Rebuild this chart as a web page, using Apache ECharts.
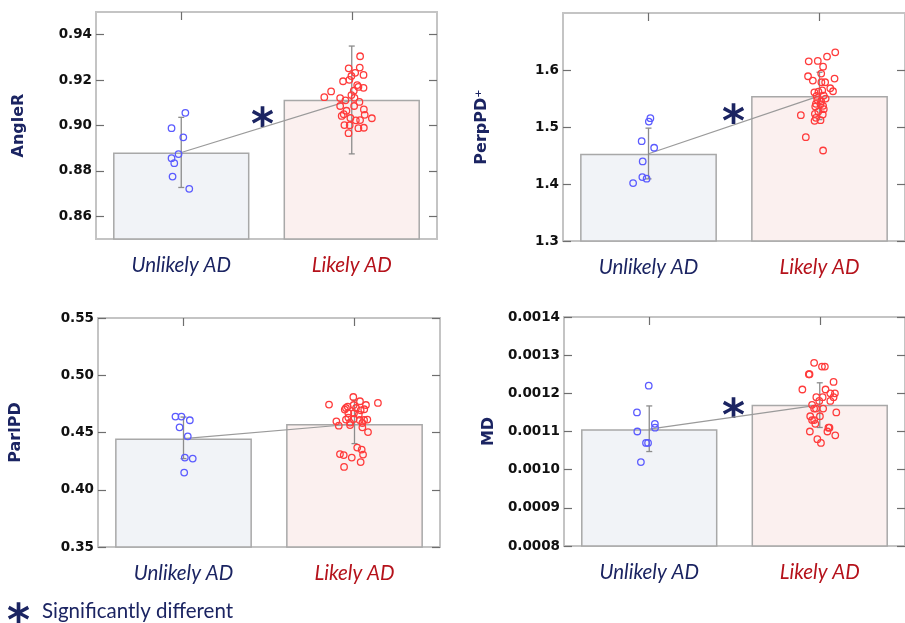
<!DOCTYPE html>
<html>
<head>
<meta charset="utf-8">
<script src="https://cdn.jsdelivr.net/npm/echarts@6/dist/echarts.min.js"></script>
<style>
html,body{margin:0;padding:0;background:#fff;}
#chart{width:905px;height:623px;}
</style>
</head>
<body>
<div id="chart"></div>
<script>
// ---------- DATA ----------
const categories = ['Unlikely AD', 'Likely AD'];

// AngleR
const angleRMeans = [0.8881, 0.9113];
const angleRErrLow = [0.8727, 0.8875];
const angleRErrHigh = [0.9036, 0.9350];
const angleRTicks = [0.86, 0.88, 0.90, 0.92, 0.94];
const angleRUnlikely = [0.9056, 0.8988, 0.8948, 0.8874, 0.8856, 0.8834, 0.8775, 0.8721];
const angleRUnlikelyJitter = [0.024, -0.057, 0.012, -0.016, -0.057, -0.041, -0.051, 0.047];
const angleRLikely = [0.9305, 0.9252, 0.9255, 0.9232, 0.9218, 0.9223, 0.9195, 0.9201, 0.9178, 0.9170, 0.9166, 0.9153, 0.9150, 0.9134, 0.9125, 0.9121, 0.9122, 0.9111, 0.9104, 0.9086, 0.9086, 0.9071, 0.9065, 0.9047, 0.9050, 0.9042, 0.9032, 0.9033, 0.9023, 0.9024, 0.9002, 0.9001, 0.8988, 0.8990, 0.8966];
const angleRLikelyJitter = [0.049, -0.018, 0.047, 0.020, -0.002, 0.069, -0.051, -0.014, 0.032, 0.039, 0.069, 0.012, -0.121, -0.002, -0.161, -0.068, 0.016, -0.037, 0.045, 0.014, -0.068, 0.071, -0.031, 0.076, -0.047, -0.059, 0.118, -0.008, 0.024, 0.049, -0.043, -0.012, 0.039, 0.071, -0.019];

// PerpPD+
const perpMeans = [1.4531, 1.5546];
const perpErrLow = [1.4090, 1.5130];
const perpErrHigh = [1.4980, 1.5960];
const perpTicks = [1.3, 1.4, 1.5, 1.6];
const perpUnlikely = [1.5154, 1.5096, 1.4751, 1.4636, 1.4396, 1.4121, 1.4093, 1.4016];
const perpUnlikelyJitter = [0.011, 0.002, -0.040, 0.033, -0.034, -0.036, -0.011, -0.090];
const perpLikely = [1.6310, 1.6235, 1.6152, 1.6159, 1.6059, 1.5937, 1.5890, 1.5814, 1.5849, 1.5785, 1.5785, 1.5680, 1.5627, 1.5609, 1.5622, 1.5644, 1.5546, 1.5552, 1.5499, 1.5476, 1.5447, 1.5406, 1.5399, 1.5359, 1.5371, 1.5312, 1.5271, 1.5207, 1.5231, 1.5219, 1.5161, 1.5119, 1.5109, 1.4821, 1.4588];
const perpLikelyJitter = [0.092, 0.044, -0.063, -0.010, 0.021, 0.010, -0.067, -0.039, 0.088, 0.011, 0.033, 0.063, 0.079, -0.030, -0.006, 0.016, -0.017, 0.025, 0.036, -0.013, 0.010, -0.021, 0.006, -0.025, 0.021, 0.025, -0.007, -0.109, -0.027, 0.019, -0.021, 0.006, -0.029, -0.080, 0.021];

// ParlPD
const parlMeans = [0.4447, 0.4574];
const parlErrLow = [0.4272, 0.4403];
const parlErrHigh = [0.4635, 0.4781];
const parlTicks = [0.35, 0.40, 0.45, 0.50, 0.55];
const parlUnlikely = [0.4639, 0.4639, 0.4607, 0.4545, 0.4467, 0.4281, 0.4272, 0.4150];
const parlUnlikelyJitter = [-0.047, -0.012, 0.037, -0.023, 0.025, 0.008, 0.054, 0.004];
const parlLikely = [0.4810, 0.4744, 0.4773, 0.4740, 0.4740, 0.4758, 0.4714, 0.4726, 0.4714, 0.4694, 0.4703, 0.4700, 0.4668, 0.4656, 0.4668, 0.4630, 0.4618, 0.4613, 0.4609, 0.4609, 0.4613, 0.4598, 0.4587, 0.4583, 0.4560, 0.4565, 0.4545, 0.4504, 0.4368, 0.4351, 0.4307, 0.4312, 0.4303, 0.4281, 0.4242, 0.4199];
const parlLikelyJitter = [-0.007, -0.149, 0.032, -0.005, 0.067, 0.137, -0.050, -0.040, 0.009, 0.036, 0.057, -0.057, -0.036, 0.025, -0.003, -0.036, -0.005, -0.050, 0.030, 0.056, 0.075, -0.106, -0.026, 0.046, -0.092, -0.026, 0.046, 0.079, 0.016, 0.042, 0.050, -0.085, -0.063, -0.016, 0.036, -0.061];

// MD
const mdMeans = [0.001106, 0.001170];
const mdErrLow = [0.0010475, 0.0011105];
const mdErrHigh = [0.001167, 0.0012276];
const mdTicks = [0.0008, 0.0009, 0.0010, 0.0011, 0.0012, 0.0013, 0.0014];
const mdUnlikely = [0.00122, 0.00115, 0.00112, 0.00111, 0.00110, 0.00107, 0.00107, 0.00102];
const mdUnlikelyJitter = [-0.003, -0.072, 0.033, 0.034, -0.070, -0.019, -0.007, -0.049];
const mdLikely = [0.00128, 0.00127, 0.00127, 0.00125, 0.00125, 0.00123, 0.00121, 0.00121, 0.00120, 0.00120, 0.00119, 0.00119, 0.00119, 0.00118, 0.00118, 0.00117, 0.00116, 0.00116, 0.00116, 0.00115, 0.00114, 0.00114, 0.00113, 0.00113, 0.00112, 0.00111, 0.00111, 0.00110, 0.00110, 0.00109, 0.00108, 0.00107];
const mdLikelyJitter = [-0.033, 0.013, 0.030, -0.064, -0.060, 0.081, -0.102, 0.034, 0.062, 0.089, 0.081, -0.020, 0.017, 0.062, -0.003, -0.045, -0.033, -0.022, 0.020, 0.097, -0.056, 0.001, -0.045, -0.033, -0.026, 0.057, 0.051, -0.058, 0.045, 0.091, -0.014, 0.007];

// ---------- STYLE / LAYOUT ----------
const NAVY = '#1b2462';
const DARKRED = '#b5121b';
const panels = [
  {name: 'AngleR', grid: {left: 96, top: 12, width: 341, height: 227}, min: 0.85, max: 0.95, ticks: angleRTicks, dec: 2,
   means: angleRMeans, lo: angleRErrLow, hi: angleRErrHigh, u: angleRUnlikely, uj: angleRUnlikelyJitter, l: angleRLikely, lj: angleRLikelyJitter, nameGap: 69},
  {name: 'PerpPD\u207A', grid: {left: 563, top: 13, width: 348, height: 228}, min: 1.3, max: 1.7, ticks: perpTicks, dec: 1,
   means: perpMeans, lo: perpErrLow, hi: perpErrHigh, u: perpUnlikely, uj: perpUnlikelyJitter, l: perpLikely, lj: perpLikelyJitter, nameGap: 73},
  {name: 'ParlPD', grid: {left: 98, top: 318, width: 342, height: 229}, min: 0.35, max: 0.55, ticks: parlTicks, dec: 2,
   means: parlMeans, lo: parlErrLow, hi: parlErrHigh, u: parlUnlikely, uj: parlUnlikelyJitter, l: parlLikely, lj: parlLikelyJitter, nameGap: 74},
  {name: 'MD', grid: {left: 564, top: 317, width: 349, height: 229}, min: 0.0008, max: 0.0014, ticks: mdTicks, dec: 4,
   means: mdMeans, lo: mdErrLow, hi: mdErrHigh, u: mdUnlikely, uj: mdUnlikelyJitter, l: mdLikely, lj: mdLikelyJitter, nameGap: 67}
];

const grids = [], xAxes = [], yAxes = [], series = [];
const tickStyle = {color: '#6e6e6e', width: 1.2};

panels.forEach((p, i) => {
  grids.push(Object.assign({show: true, borderColor: '#c4c4c4', borderWidth: 2, backgroundColor: 'transparent', containLabel: false}, p.grid));
  const xb = xAxes.length;
  xAxes.push({
    type: 'category', gridIndex: i, data: categories, position: 'bottom',
    axisLine: {show: false},
    axisTick: {show: true, inside: true, alignWithLabel: true, length: 8, lineStyle: tickStyle},
    axisLabel: {margin: 16, fontFamily: 'Lato', fontStyle: 'italic', fontSize: 20.5,
      color: (v, idx) => (idx === 0 ? NAVY : DARKRED)}
  });
  xAxes.push({
    type: 'category', gridIndex: i, data: categories, position: 'top',
    axisLine: {show: false}, axisLabel: {show: false},
    axisTick: {show: true, inside: true, alignWithLabel: true, length: 8, lineStyle: tickStyle}
  });
  const xv = xAxes.length;
  xAxes.push({type: 'value', gridIndex: i, min: 0, max: 2, show: false});
  const yl = yAxes.length;
  yAxes.push({
    type: 'value', gridIndex: i, min: p.min, max: p.max, position: 'left',
    name: p.name, nameLocation: 'middle', nameGap: p.nameGap,
    nameTextStyle: {fontFamily: 'DejaVu Sans', fontWeight: 'bold', fontSize: 16, color: NAVY},
    splitLine: {show: false}, axisLine: {show: false},
    axisTick: {show: true, inside: true, length: 8, lineStyle: tickStyle, customValues: p.ticks},
    axisLabel: {show: true, margin: 4, fontFamily: 'DejaVu Sans', fontWeight: 'bold', fontSize: 13.5, color: '#111',
      customValues: p.ticks, formatter: v => Number(v).toFixed(p.dec)}
  });
  yAxes.push({
    type: 'value', gridIndex: i, min: p.min, max: p.max, position: 'right',
    splitLine: {show: false}, axisLine: {show: false}, axisLabel: {show: false},
    axisTick: {show: true, inside: true, length: 8, lineStyle: tickStyle, customValues: p.ticks}
  });

  series.push({
    type: 'bar', xAxisIndex: xb, yAxisIndex: yl, barWidth: '80%', z: 2,
    data: p.means.map((m, k) => ({value: m, itemStyle: {color: k === 0 ? '#f1f3f7' : '#fbf0ef'}})),
    itemStyle: {borderColor: '#a8a8a8', borderWidth: 1.5},
    silent: true
  });
  series.push({
    type: 'line', xAxisIndex: xb, yAxisIndex: yl, data: p.means, symbol: 'none', z: 3,
    lineStyle: {color: '#9a9a9a', width: 1.2}, silent: true
  });
  series.push({
    type: 'custom', xAxisIndex: xb, yAxisIndex: yl, z: 4,
    data: p.lo.map((v, k) => [k, v, p.hi[k]]),
    encode: {x: 0, y: [1, 2]},
    renderItem: function (params, api) {
      const c = api.value(0);
      const a = api.coord([c, api.value(1)]);
      const b = api.coord([c, api.value(2)]);
      const w = 3;
      const st = {stroke: '#8c8c8c', lineWidth: 1.3};
      return {type: 'group', children: [
        {type: 'line', shape: {x1: a[0], y1: a[1], x2: b[0], y2: b[1]}, style: st},
        {type: 'line', shape: {x1: a[0] - w, y1: a[1], x2: a[0] + w, y2: a[1]}, style: st},
        {type: 'line', shape: {x1: b[0] - w, y1: b[1], x2: b[0] + w, y2: b[1]}, style: st}
      ]};
    }
  });
  series.push({
    type: 'scatter', xAxisIndex: xv, yAxisIndex: yl, z: 5, symbolSize: 6.5,
    data: p.u.map((v, k) => [0.5 + p.uj[k], v]),
    itemStyle: {color: 'rgba(0,0,0,0)', borderColor: '#5b5bff', borderWidth: 1.3, opacity: 1}
  });
  series.push({
    type: 'scatter', xAxisIndex: xv, yAxisIndex: yl, z: 5, symbolSize: 6.5,
    data: p.l.map((v, k) => [1.5 + p.lj[k], v]),
    itemStyle: {color: 'rgba(0,0,0,0)', borderColor: '#ff3b3b', borderWidth: 1.3, opacity: 1}
  });
});

const astStyle = {text: '*', fill: NAVY, font: 'bold 44px "DejaVu Sans"'};
const graphic = [
  {type: 'text', left: 251, top: 106, style: Object.assign({}, astStyle)},
  {type: 'text', left: 722, top: 103, style: Object.assign({}, astStyle)},
  {type: 'text', left: 722, top: 397, style: Object.assign({}, astStyle)},
  {type: 'text', left: 7, top: 602, style: Object.assign({}, astStyle)},
  {type: 'text', left: 42, top: 601, style: {text: 'Significantly different', fill: NAVY, font: '20.5px Lato'}}
];

const chart = echarts.init(document.getElementById('chart'), null, {renderer: 'canvas'});
chart.setOption({
  animation: false,
  backgroundColor: '#ffffff',
  grid: grids, xAxis: xAxes, yAxis: yAxes, series: series, graphic: graphic
});
</script>
</body>
</html>
